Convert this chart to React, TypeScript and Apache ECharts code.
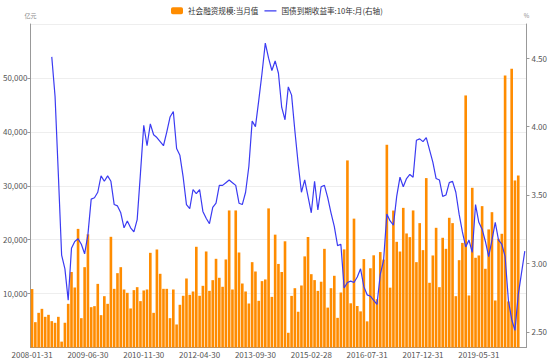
import React, { useEffect, useRef } from "react";
import * as echarts from "echarts";

const barName = "社会融资规模:当月值";
const lineName = "国债到期收益率:10年:月(右轴)";

// monthly categories, month-end dates 2008-01 .. 2020-07
const firstYear = 2008;
const monthCount = 151;
const categories: string[] = [];
for (let k = 0; k < monthCount; k++) {
  const y = firstYear + Math.floor(k / 12);
  const m = (k % 12) + 1;
  const d = new Date(Date.UTC(y, m, 0)).getUTCDate();
  categories.push(`${y}-${String(m).padStart(2, "0")}-${String(d).padStart(2, "0")}`);
}

// 社会融资规模:当月值 (亿元)
const tsf2008 = [10840, 4700, 6430, 7170, 5690, 6060, 4890, 4580, 5690, 1090, 4580, 8100];
const tsf2009 = [14000, 11130, 22000, 5440, 14900, 21000, 7480, 7670, 11800, 6000, 9520, 8100];
const tsf2010 = [20530, 10880, 13790, 14900, 10760, 10140, 7240, 10640, 11190, 8600, 10580, 10760];
const tsf2011 = [17560, 6430, 18180, 13670, 10880, 10880, 5440, 10760, 4270, 7920, 9590, 12800];
const tsf2012 = [9770, 10390, 18680, 9590, 11440, 17810, 10510, 12490, 16450, 12930, 11260, 16330];
const tsf2013 = [25420, 10760, 25420, 17620, 11870, 10390, 8160, 15830, 14100, 8660, 12310, 12620];
const tsf2014 = [25800, 9390, 20930, 15500, 14000, 19700, 2730, 9570, 11000, 6630, 11500, 16900];
const tsf2015 = [20500, 13600, 12500, 10500, 12200, 18300, 7400, 11000, 13300, 5500, 10200, 18200];
const tsf2016 = [34700, 8200, 23900, 7700, 6700, 16400, 4850, 14700, 17100, 8960, 17700, 16300];
const tsf2017 = [37600, 11100, 25400, 19600, 17800, 25900, 21150, 20470, 25420, 15830, 23070, 18060];
const tsf2018 = [31420, 12000, 17070, 22200, 11190, 20350, 18300, 24060, 23070, 9520, 16200, 19400];
const tsf2019 = [46750, 9650, 29620, 16640, 17070, 26220, 14600, 21900, 25100, 8720, 20160, 21090];
const tsf2020 = [50460, 8550, 51700, 30980, 31900, null, null];

// 国债到期收益率:10年 (%)
const y2008 = [null, null, null, null, null, null, 4.51, 4.22, 3.65, 3.06, 2.96, 2.73];
const y2009 = [3.11, 3.16, 3.18, 3.14, 3.07, 3.21, 3.47, 3.48, 3.52, 3.64, 3.6, 3.64];
const y2010 = [3.6, 3.43, 3.42, 3.37, 3.26, 3.31, 3.26, 3.23, 3.32, 3.66, 4.01, 3.86];
const y2011 = [4.02, 3.94, 3.92, 3.89, 3.86, 3.96, 4.07, 4.11, 3.84, 3.79, 3.63, 3.43];
const y2012 = [3.4, 3.54, 3.51, 3.54, 3.38, 3.33, 3.29, 3.41, 3.44, 3.57, 3.57, 3.59];
const y2013 = [3.61, 3.59, 3.57, 3.44, 3.43, 3.52, 3.71, 4.04, 4.0, 4.19, 4.39, 4.61];
const y2014 = [4.5, 4.41, 4.48, 4.39, 4.14, 4.05, 4.29, 4.23, 3.97, 3.73, 3.52, 3.61];
const y2015 = [3.49, 3.37, 3.6, 3.39, 3.56, 3.57, 3.48, 3.37, 3.27, 3.13, 3.14, 2.82];
const y2016 = [2.86, 2.87, 2.86, 2.9, 2.96, 2.83, 2.77, 2.76, 2.73, 2.7, 2.92, 3.02];
const y2017 = [3.36, 3.31, 3.28, 3.49, 3.63, 3.56, 3.62, 3.65, 3.63, 3.9, 3.91, 3.89];
const y2018 = [3.92, 3.83, 3.74, 3.62, 3.61, 3.49, 3.5, 3.59, 3.6, 3.52, 3.36, 3.23];
const y2019 = [3.12, 3.17, 3.08, 3.43, 3.3, 3.25, 3.16, 3.05, 3.17, 3.3, 3.17, 3.14];
const y2020 = [3.05, 2.73, 2.59, 2.51, 2.77, 2.93, 3.09];

const tsfValues = [
  ...tsf2008, ...tsf2009, ...tsf2010, ...tsf2011, ...tsf2012, ...tsf2013, ...tsf2014,
  ...tsf2015, ...tsf2016, ...tsf2017, ...tsf2018, ...tsf2019, ...tsf2020,
];
const yieldValues = [
  ...y2008, ...y2009, ...y2010, ...y2011, ...y2012, ...y2013, ...y2014,
  ...y2015, ...y2016, ...y2017, ...y2018, ...y2019, ...y2020,
];

const FONT = '"Noto Sans CJK SC", "Noto Sans", sans-serif';
const LINE_ICON = "path://M0,0 L0.01,0 L0.01,0.01 Z M0,2.9 L12,2.9 L12,4.1 L0,4.1 Z M11.99,6.99 L12,6.99 L12,7 Z";

export default function App() {
  const ref = useRef<HTMLDivElement>(null);
  useEffect(() => {
    if (!ref.current) return;
    const chart = echarts.init(ref.current, undefined, { renderer: "svg" });
    chart.setOption({
      animation: false,
      textStyle: { fontFamily: FONT },
      legend: {
        top: 2,
        left: 166,
        itemWidth: 12,
        itemHeight: 7,
        itemGap: 6,
        textStyle: { fontSize: 7.6, color: "#333", fontFamily: FONT },
        data: [
          { name: barName, icon: "roundRect" },
          { name: lineName, icon: LINE_ICON },
        ],
      },
      grid: { left: 29, right: 22, top: 24, bottom: 14.5 },
      xAxis: {
        type: "category",
        data: categories,
        boundaryGap: true,
        axisLine: { lineStyle: { color: "#999" } },
        axisTick: { interval: 16, alignWithLabel: true, length: 3, lineStyle: { color: "#999" } },
        axisLabel: { interval: 16, fontSize: 8, color: "#555", margin: 3, fontFamily: FONT },
      },
      yAxis: [
        {
          type: "value",
          min: 0,
          max: 60000,
          interval: 10000,
          name: "亿元",
          nameGap: 6,
          nameTextStyle: { fontSize: 6, color: "#888", fontFamily: FONT },
          axisLine: { show: true, lineStyle: { color: "#999" } },
          axisTick: { show: true, length: 3, lineStyle: { color: "#999" } },
          axisLabel: {
            fontSize: 8,
            color: "#555",
            margin: 3,
            showMinLabel: false,
            showMaxLabel: false,
            fontFamily: FONT,
            formatter: (v: number) => v.toLocaleString("en-US"),
          },
          splitLine: { lineStyle: { color: "#eeeeee" } },
        },
        {
          type: "value",
          position: "right",
          min: 2.385,
          max: 4.75,
          name: "%",
          nameGap: 6,
          nameTextStyle: { fontSize: 6, color: "#888", fontFamily: FONT },
          axisLine: { show: true, lineStyle: { color: "#999" } },
          axisTick: { show: true, length: 3, lineStyle: { color: "#999" } },
          axisLabel: {
            fontSize: 8,
            color: "#555",
            margin: 5,
            showMinLabel: false,
            showMaxLabel: false,
            fontFamily: FONT,
            formatter: (v: number) => v.toFixed(2),
          },
          splitLine: { show: false },
        },
      ],
      series: [
        {
          type: "bar",
          name: barName,
          data: tsfValues,
          barCategoryGap: "20%",
          itemStyle: { color: "#ff8c00" },
        },
        {
          type: "line",
          name: lineName,
          yAxisIndex: 1,
          data: yieldValues,
          symbol: "none",
          lineStyle: { color: "#3b3bf2", width: 1.2 },
          itemStyle: { color: "#3b3bf2" },
        },
      ],
    });
    return () => chart.dispose();
  }, []);
  return <div ref={ref} style={{ width: 550, height: 362, position: "absolute", left: 0, top: 0 }} />;
}
